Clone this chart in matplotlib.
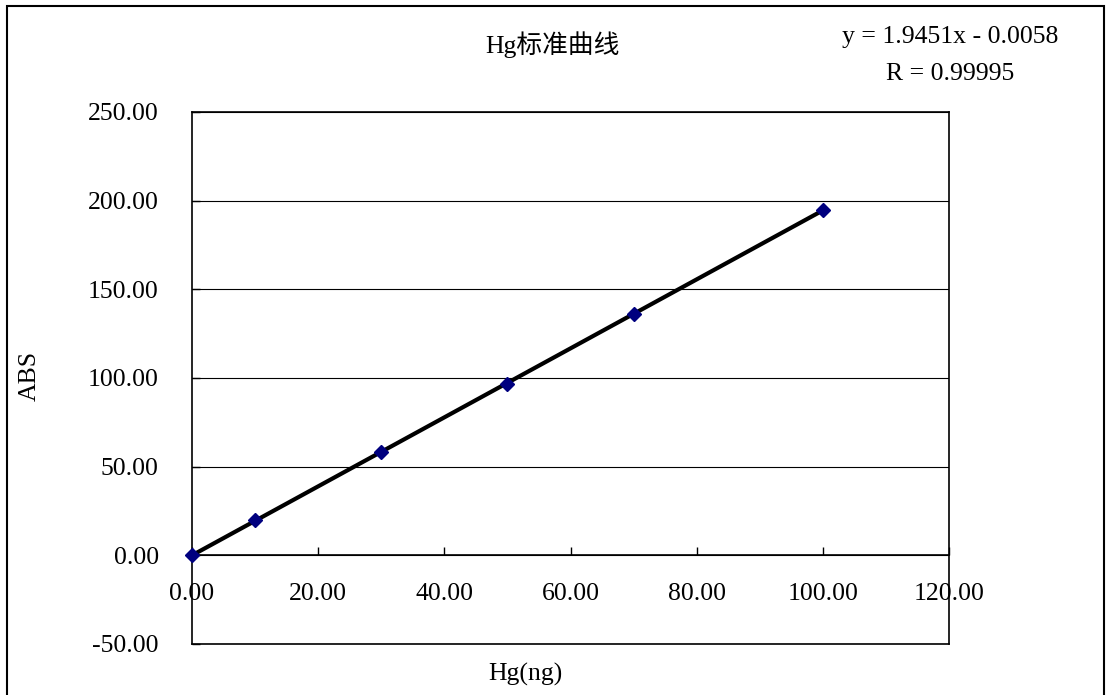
import matplotlib
matplotlib.use("Agg")
import matplotlib.pyplot as plt
from matplotlib.patches import Rectangle
import numpy as np

# Standard curve data
hg_ng = [0, 10, 30, 50, 70, 100]
abs_val = [0.0, 20.2, 58.4, 96.8, 136.1, 194.5]

# Trendline coefficients shown on the chart
slope = 1.9451
intercept = -0.0058
r_value = "0.99995"

x_ticks = [0, 20, 40, 60, 80, 100, 120]
y_ticks = [-50, 0, 50, 100, 150, 200, 250]

plt.rcParams['font.family'] = ['Liberation Serif', 'Noto Sans CJK SC', 'DejaVu Sans']
fs = 18.5

fig = plt.figure(figsize=(11.08, 6.95), dpi=100)
ax = fig.add_axes([192 / 1108, 1 - 644 / 695, (949 - 192) / 1108, (644 - 112) / 695])

# chart border
fig.patches.append(Rectangle((7 / 1108, -0.01), 1097 / 1108, 1 - 6 / 695 + 0.01,
                             transform=fig.transFigure, fill=False,
                             edgecolor='black', linewidth=1.5))

# x axis crosses at y = 0
ax.spines['bottom'].set_position(('data', 0))
for s in ['top', 'right', 'left', 'bottom']:
    ax.spines[s].set_linewidth(1.2)

ax.set_xlim(0, 120)
ax.set_ylim(-50, 250)
ax.set_yticks(y_ticks)
ax.set_xticks(x_ticks)
ax.set_yticklabels([f"{v:.2f}" for v in y_ticks])
ax.set_xticklabels([f"{v:.2f}" for v in x_ticks])

ax.grid(axis='y', color='black', linewidth=0.8)
ax.set_axisbelow(True)
ax.axhline(-50, color='black', linewidth=1.2, clip_on=False)

ax.tick_params(axis='x', direction='in', length=6, pad=20, width=1, labelsize=fs)
ax.tick_params(axis='y', direction='in', length=6, pad=24, width=1, labelsize=fs)

# trendline and points
xf = np.array([hg_ng[0], hg_ng[-1]])
ax.plot(xf, slope * xf + intercept, color='black', linewidth=3, zorder=3)
ax.plot(hg_ng, abs_val, linestyle='none', marker='D', markersize=7,
        color='#00007F', zorder=4, clip_on=False)

fig.text(552 / 1108, 1 - 45 / 695, "Hg标准曲线", fontsize=fs, ha='center', va='center')
fig.text(30 / 1108, 1 - 376 / 695, "ABS", fontsize=fs, ha='center', va='center', rotation=90)
fig.text(525 / 1108, 1 - 674 / 695, "Hg(ng)", fontsize=fs, ha='center', va='center')
fig.text(950 / 1108, 1 - 37 / 695, f"y = {slope}x - {abs(intercept)}",
         fontsize=fs, ha='center', va='center')
fig.text(950 / 1108, 1 - 74 / 695, f"R = {r_value}",
         fontsize=fs, ha='center', va='center')

plt.savefig("out.png", dpi=100)
